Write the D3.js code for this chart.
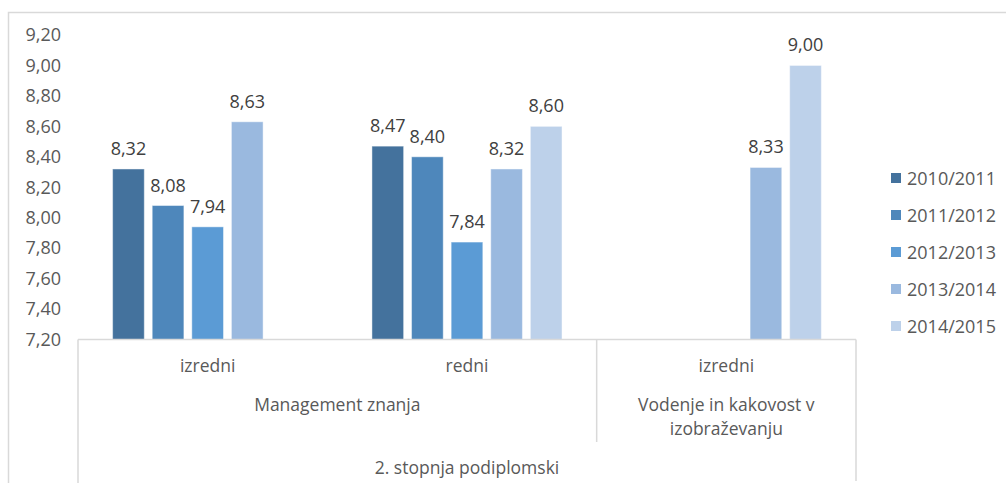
<!DOCTYPE html>
<html><head><meta charset="utf-8">
<script src="https://cdn.jsdelivr.net/npm/d3@7"></script>
<style>html,body{margin:0;padding:0;background:#fff;} svg{display:block;}</style>
</head><body>
<svg id="c" width="1006" height="483"></svg>
<script>
const categories = ["izredni", "redni", "izredni "];
const groupLabels = ["Management znanja", "Vodenje in kakovost v|izobraževanju"];
const topLabel = "2. stopnja podiplomski";
const seriesNames = ["2010/2011", "2011/2012", "2012/2013", "2013/2014", "2014/2015"];
const s2010 = [8.32, 8.47, null];
const s2011 = [8.08, 8.40, null];
const s2012 = [7.94, 7.84, null];
const s2013 = [8.63, 8.32, 8.33];
const s2014 = [null, 8.60, 9.00];
const yTicks = [7.2, 7.4, 7.6, 7.8, 8.0, 8.2, 8.4, 8.6, 8.8, 9.0, 9.2];
const colors = ["#44729d", "#4e87bb", "#5b9bd5", "#9ab9df", "#bdd1ea"];

const seriesVals = [s2010, s2011, s2012, s2013, s2014];
const svg = d3.select("#c");
const font = "'Open Sans', 'Noto Sans', sans-serif";
const txt = "#595959";
const grid = "#d9d9d9";
const loc = d3.formatLocale({decimal: ",", thousands: ".", grouping: [3], currency: ["", "€"]});
const fmt = loc.format(".2f");

// outer border
svg.append("rect").attr("x", 8.5).attr("y", 12.5).attr("width", 1010).attr("height", 500)
  .attr("fill", "none").attr("stroke", grid).attr("stroke-width", 1.5);

const x0 = d3.scaleBand().domain(categories).range([78, 856]);
const x1 = d3.scaleBand().domain(seriesNames).range([30.65, 228.65]).paddingInner(0.2).paddingOuter(0.1);
const y = d3.scaleLinear().domain([7.2, 9.2]).range([339.5, 35]);

// y axis labels
const yAxis = d3.axisLeft(y).tickValues(yTicks).tickFormat(fmt).tickSize(0).tickPadding(0);
const ya = svg.append("g").attr("transform", "translate(61,0)").call(yAxis);
ya.select(".domain").remove();
ya.selectAll("text").attr("font-family", font).attr("font-size", 18).attr("fill", txt);

// bars
seriesVals.forEach((vals, si) => {
  const g = svg.append("g");
  vals.forEach((v, ci) => {
    if (v == null) return;
    const bx = x0(categories[ci]) + x1(seriesNames[si]);
    g.append("rect").attr("x", bx).attr("y", y(v)).attr("width", x1.bandwidth())
      .attr("height", y(7.2) - y(v)).attr("fill", colors[si])
      .attr("stroke", "#ffffff").attr("stroke-opacity", 0.45).attr("stroke-width", 1);
    g.append("text").attr("x", bx + x1.bandwidth() / 2).attr("y", y(v) - 14)
      .attr("text-anchor", "middle").attr("font-family", font).attr("font-size", 18)
      .attr("fill", "#404040").text(fmt(v));
  });
});

// category axis
const line = (x1_, y1_, x2_, y2_) => svg.append("line").attr("x1", x1_).attr("y1", y1_)
  .attr("x2", x2_).attr("y2", y2_).attr("stroke", grid).attr("stroke-width", 1.5);
line(78, y(7.2), 856, y(7.2));
line(78, y(7.2), 78, 483);
line(856, y(7.2), 856, 481);
line(x0(categories[2]), y(7.2), x0(categories[2]), 442);

const lab = (x, yy, t) => svg.append("text").attr("x", x).attr("y", yy).attr("text-anchor", "middle")
  .attr("font-family", font).attr("font-size", 17.5).attr("fill", txt).text(t);
categories.forEach(c => lab(x0(c) + x0.bandwidth() / 2, 372, c.trim()));
lab((x0(categories[0]) + x0(categories[1]) + x0.bandwidth()) / 2, 411, groupLabels[0]);
groupLabels[1].split("|").forEach((t, i) => lab(x0(categories[2]) + x0.bandwidth() / 2, 411 + i * 24, t));
lab((78 + 856) / 2, 474, topLabel);

// legend
seriesNames.forEach((s, i) => {
  const ly = 178 + i * 37;
  svg.append("rect").attr("x", 891).attr("y", ly - 5).attr("width", 10).attr("height", 10).attr("fill", colors[i]);
  svg.append("text").attr("x", 907).attr("y", ly + 6.5).attr("font-family", font).attr("font-size", 18)
    .attr("fill", txt).text(s);
});
</script>
</body></html>
